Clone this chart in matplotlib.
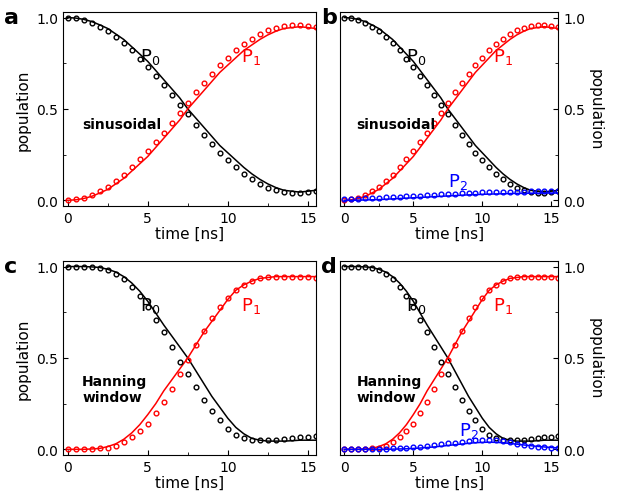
import matplotlib
matplotlib.use("Agg")
import matplotlib.pyplot as plt
from matplotlib.ticker import MultipleLocator

t = [i * 0.5 for i in range(32)]

# panel a/b: sinusoidal pulse
sin_p0_line = [1.0, .997, .99, .978, .96, .94, .91, .88, .84, .80, .76, .71, .66, .61, .56, .50,
               .45, .40, .35, .30, .26, .22, .18, .145, .115, .09, .07, .055, .05, .045, .05, .055]
sin_p1_line = [0.0, .003, .01, .022, .04, .06, .09, .12, .16, .20, .24, .29, .34, .39, .44, .50,
               .55, .60, .65, .70, .74, .78, .82, .85, .88, .905, .925, .94, .945, .95, .945, .94]
sin_p0_pts = [1.0, .995, .985, .97, .95, .925, .895, .86, .82, .775, .73, .68, .63, .575, .52, .47,
              .41, .36, .31, .26, .22, .18, .145, .115, .09, .07, .055, .045, .04, .04, .045, .05]
sin_p1_pts = [0.0, .005, .015, .03, .05, .075, .105, .14, .18, .225, .27, .32, .37, .425, .48, .53,
              .59, .64, .69, .74, .78, .82, .855, .885, .91, .93, .945, .955, .96, .96, .955, .95]
sin_p2_line = [0.0, 0.0, .001, .002, .003, .004, .006, .008, .01, .012, .014, .016, .018, .02, .022, .024,
               .026, .028, .03, .031, .033, .034, .035, .036, .037, .038, .038, .039, .039, .04, .04, .04]
sin_p2_pts = [.01, .01, .01, .012, .013, .015, .016, .018, .02, .022, .024, .026, .028, .03, .032, .034,
              .036, .038, .04, .041, .043, .044, .045, .046, .047, .048, .048, .049, .05, .05, .05, .05]

# panel c/d: Hanning window pulse
han_p0_line = [1.0, 1.0, 1.0, .998, .995, .985, .97, .945, .91, .865, .81, .745, .68, .62, .56, .50,
               .43, .36, .29, .23, .17, .12, .085, .06, .05, .045, .045, .045, .047, .05, .05, .05]
han_p1_line = [0.0, 0.0, 0.0, .002, .005, .015, .03, .055, .09, .135, .19, .25, .32, .38, .44, .50,
               .57, .64, .70, .76, .82, .87, .90, .92, .935, .94, .945, .945, .945, .945, .945, .945]
han_p0_pts = [1.0, 1.0, 1.0, 1.0, .99, .98, .96, .93, .89, .84, .78, .71, .64, .56, .48, .41,
              .34, .27, .21, .16, .11, .08, .06, .05, .05, .05, .05, .055, .06, .065, .07, .075]
han_p1_pts = [0.0, 0.0, 0.0, 0.0, .005, .01, .02, .04, .07, .10, .14, .20, .26, .33, .41, .49,
              .57, .65, .72, .78, .83, .87, .90, .92, .935, .94, .945, .945, .945, .94, .94, .935]
han_p2_line = [0.0, 0.0, 0.0, 0.0, 0.0, 0.0, 0.0, .001, .002, .003, .005, .007, .01, .013, .017, .021,
               .025, .029, .033, .036, .038, .039, .038, .036, .032, .028, .024, .02, .016, .013, .01, .008]
han_p2_pts = [0.0, 0.0, 0.0, 0.0, 0.0, .002, .003, .005, .007, .01, .012, .015, .018, .022, .027, .032,
              .037, .042, .046, .049, .05, .05, .049, .045, .038, .03, .024, .018, .014, .011, .01, .008]

panels = [
    ("a", [.101, .588, .406, .386], sin_p0_line, sin_p1_line, sin_p0_pts, sin_p1_pts, None, None, "sinusoidal", False),
    ("b", [.546, .588, .350, .386], sin_p0_line, sin_p1_line, sin_p0_pts, sin_p1_pts, sin_p2_line, sin_p2_pts, "sinusoidal", True),
    ("c", [.101, .092, .406, .386], han_p0_line, han_p1_line, han_p0_pts, han_p1_pts, None, None, "Hanning\nwindow", False),
    ("d", [.546, .092, .350, .386], han_p0_line, han_p1_line, han_p0_pts, han_p1_pts, han_p2_line, han_p2_pts, "Hanning\nwindow", True),
]

fig = plt.figure(figsize=(6.23, 5.02), dpi=100)
for letter, rect, l0, l1, m0, m1, l2, m2, name, right in panels:
    ax = fig.add_axes(rect)
    mk = dict(ls="none", marker="o", ms=3.4, mfc="none", mew=1.0)
    ax.plot(t, l0, color="black", lw=1.1)
    ax.plot(t, l1, color="red", lw=1.1)
    ax.plot(t, m0, color="black", **mk)
    ax.plot(t, m1, color="red", **mk)
    if l2 is not None:
        ax.plot(t, l2, color="blue", lw=1.1)
        ax.plot(t, m2, color="blue", **mk)
    ax.set_xlim(-0.3, 15.5)
    ax.set_ylim(-0.03, 1.03)
    ax.set_xticks([0, 5, 10, 15])
    ax.set_yticks([0, 0.5, 1.0])
    ax.set_yticklabels(["0.0", "0.5", "1.0"])
    ax.xaxis.set_minor_locator(MultipleLocator(2.5))
    ax.yaxis.set_minor_locator(MultipleLocator(0.25))
    ax.tick_params(which="both", direction="in", labelsize=10, top=False)
    ax.set_xlabel("time [ns]", fontsize=11, labelpad=1)
    if right:
        ax.yaxis.tick_right()
        ax.yaxis.set_label_position("right")
        ax.set_ylabel("population", fontsize=11, rotation=270, labelpad=13)
        ax.tick_params(which="both", left=False, right=True)
    else:
        ax.set_ylabel("population", fontsize=11)
    ax.text(4.5, 0.76, "P$_0$", fontsize=13, color="black")
    ax.text(10.8, 0.76, "P$_1$", fontsize=13, color="red")
    if l2 is not None:
        ax.text(7.5 if letter == "b" else 8.3, 0.08, "P$_2$", fontsize=13, color="blue")
    ax.text(0.9, 0.42 if letter in "ab" else 0.33, name, fontsize=10, fontweight="bold", va="center")
    fig.text(rect[0] - (0.095 if not right else 0.03), rect[1] + rect[3] + 0.01, letter,
             fontsize=16, fontweight="bold", va="top")

fig.savefig("out.png", dpi=100)
